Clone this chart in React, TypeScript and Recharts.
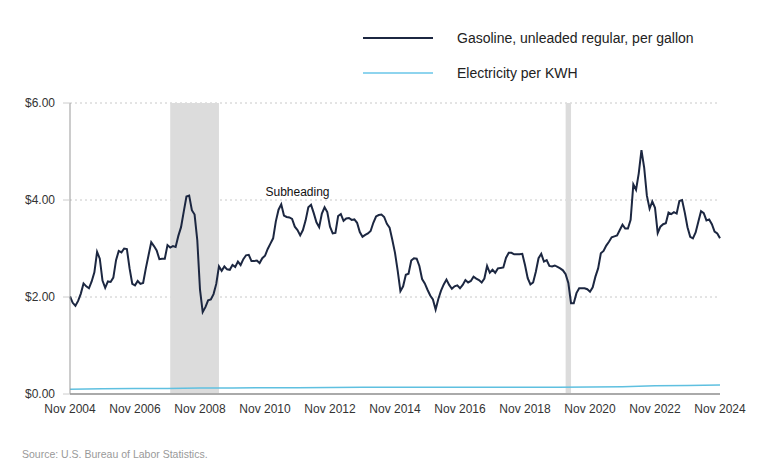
import { LineChart, Line, XAxis, YAxis, CartesianGrid, Legend, ReferenceArea, ReferenceDot } from "recharts";

// average price, gasoline unleaded regular, per gallon (monthly, Nov 2004 - Nov 2024)
const gas2004 = [2.01, 1.88];
const gas2005 = [1.82, 1.92, 2.07, 2.28, 2.22, 2.18, 2.32, 2.51, 2.93, 2.79, 2.34, 2.19];
const gas2006 = [2.32, 2.31, 2.4, 2.76, 2.95, 2.92, 3.0, 2.99, 2.59, 2.27, 2.24, 2.33];
const gas2007 = [2.27, 2.29, 2.59, 2.86, 3.13, 3.05, 2.96, 2.78, 2.79, 2.79, 3.07, 3.02];
const gas2008 = [3.05, 3.03, 3.26, 3.44, 3.76, 4.07, 4.09, 3.79, 3.7, 3.17, 2.15, 1.69];
const gas2009 = [1.79, 1.93, 1.95, 2.06, 2.27, 2.63, 2.54, 2.63, 2.57, 2.56, 2.66, 2.62];
const gas2010 = [2.73, 2.66, 2.78, 2.86, 2.87, 2.74, 2.74, 2.75, 2.7, 2.8, 2.85, 2.99];
const gas2011 = [3.1, 3.21, 3.56, 3.8, 3.91, 3.68, 3.65, 3.64, 3.61, 3.45, 3.38, 3.27];
const gas2012 = [3.38, 3.58, 3.85, 3.9, 3.73, 3.54, 3.44, 3.72, 3.85, 3.75, 3.45, 3.31];
const gas2013 = [3.32, 3.67, 3.71, 3.57, 3.62, 3.63, 3.59, 3.6, 3.53, 3.34, 3.24, 3.28];
const gas2014 = [3.31, 3.36, 3.53, 3.66, 3.69, 3.7, 3.65, 3.51, 3.43, 3.18, 2.91, 2.54];
const gas2015 = [2.12, 2.22, 2.46, 2.48, 2.75, 2.8, 2.79, 2.64, 2.37, 2.28, 2.15, 2.03];
const gas2016 = [1.95, 1.74, 1.96, 2.13, 2.26, 2.36, 2.25, 2.17, 2.22, 2.24, 2.18, 2.25];
const gas2017 = [2.35, 2.3, 2.33, 2.42, 2.38, 2.35, 2.3, 2.38, 2.64, 2.5, 2.56, 2.5];
const gas2018 = [2.59, 2.6, 2.61, 2.81, 2.91, 2.91, 2.88, 2.88, 2.88, 2.89, 2.66, 2.39];
const gas2019 = [2.26, 2.3, 2.52, 2.8, 2.89, 2.73, 2.76, 2.64, 2.63, 2.65, 2.62, 2.59];
const gas2020 = [2.55, 2.47, 2.29, 1.87, 1.87, 2.08, 2.18, 2.18, 2.18, 2.16, 2.11, 2.2];
const gas2021 = [2.42, 2.59, 2.9, 2.95, 3.06, 3.14, 3.23, 3.25, 3.27, 3.38, 3.49, 3.41];
const gas2022 = [3.41, 3.59, 4.32, 4.21, 4.55, 5.03, 4.67, 4.09, 3.82, 3.97, 3.84, 3.32];
const gas2023 = [3.45, 3.5, 3.52, 3.74, 3.71, 3.75, 3.72, 3.98, 4.0, 3.74, 3.44, 3.24];
const gas2024 = [3.21, 3.33, 3.55, 3.77, 3.73, 3.58, 3.6, 3.5, 3.35, 3.31, 3.21];

const gasoline = [
  gas2004, gas2005, gas2006, gas2007, gas2008, gas2009, gas2010, gas2011, gas2012, gas2013, gas2014,
  gas2015, gas2016, gas2017, gas2018, gas2019, gas2020, gas2021, gas2022, gas2023, gas2024,
].flat();

// electricity per kWh, read at each November (2004 - 2024)
const electricityNov = [
  0.1, 0.108, 0.112, 0.115, 0.125, 0.126, 0.128, 0.131, 0.133, 0.137, 0.14,
  0.14, 0.139, 0.141, 0.14, 0.14, 0.142, 0.15, 0.168, 0.175, 0.185,
];

const monthNames = ["Jan", "Feb", "Mar", "Apr", "May", "Jun", "Jul", "Aug", "Sep", "Oct", "Nov", "Dec"];
const yTicks = [0, 2, 4, 6];

const data = gasoline.map((g, i) => {
  const m = (10 + i) % 12;
  const year = 2004 + Math.floor((10 + i) / 12);
  return {
    label: `${monthNames[m]} ${year}`,
    gasoline: g,
    electricity: m === 10 ? electricityNov[year - 2004] : null,
  };
});

const GAS_COLOR = "#1c2741";
const ELEC_COLOR = "#5fc0e0";
const FONT = "'Liberation Sans', Arial, sans-serif";

const LegendBox = () => (
  <div style={{ fontFamily: FONT, fontSize: 14, color: "#222" }}>
    {[
      { name: "Gasoline, unleaded regular, per gallon", color: GAS_COLOR },
      { name: "Electricity per KWH", color: "#8ed4ee" },
    ].map((it) => (
      <div key={it.name} style={{ display: "flex", alignItems: "center", height: 35 }}>
        <div style={{ width: 70, height: 2, background: it.color, marginRight: 24 }} />
        <span>{it.name}</span>
      </div>
    ))}
  </div>
);

export default function App() {
  return (
    <div style={{ position: "absolute", left: 0, top: 0, width: 778, height: 461, background: "#fff" }}>
      <LineChart width={778} height={461} data={data} margin={{ top: 103, right: 58, bottom: 37, left: 8 }}>
        <CartesianGrid vertical={false} stroke="#c8c8c8" strokeDasharray="2 3" />
        <ReferenceArea x1="Dec 2007" x2="Jun 2009" fill="#dcdcdc" fillOpacity={1} stroke="none" />
        <ReferenceArea x1="Feb 2020" x2="Apr 2020" fill="#dcdcdc" fillOpacity={1} stroke="none" />
        <XAxis
          dataKey="label"
          interval={23}
          tickLine={false}
          axisLine={{ stroke: "#aaa", strokeWidth: 2 }}
          tick={{ fontSize: 12, fill: "#333", fontFamily: FONT }}
          tickMargin={4}
        />
        <YAxis
          width={62}
          domain={[0, 6]}
          ticks={yTicks}
          tickFormatter={(v: number) => `$${v.toFixed(2)}`}
          axisLine={{ stroke: "#999" }}
          tickLine={{ stroke: "#ccc" }}
          tickSize={7}
          tickMargin={8}
          tick={{ fontSize: 12, fill: "#333", fontFamily: FONT }}
        />
        <Legend
          layout="vertical"
          align="center"
          verticalAlign="middle"
          content={() => <LegendBox />}
          wrapperStyle={{ top: 20, left: 363, width: 400 }}
        />
        <ReferenceDot
          x="Nov 2011"
          y={4.17}
          r={0}
          stroke="none"
          fill="none"
          label={{ value: "Subheading", position: "center", fontSize: 12, fill: "#111", fontFamily: FONT }}
        />
        <Line
          type="linear"
          dataKey="electricity"
          stroke={ELEC_COLOR}
          strokeWidth={1.5}
          dot={false}
          connectNulls
          isAnimationActive={false}
        />
        <Line
          type="linear"
          dataKey="gasoline"
          stroke={GAS_COLOR}
          strokeWidth={2}
          dot={false}
          isAnimationActive={false}
        />
      </LineChart>
      <div
        style={{
          position: "absolute",
          left: 22,
          top: 448,
          fontFamily: "'Liberation Sans Narrow', 'Liberation Sans', sans-serif",
          fontSize: 10.5,
          color: "#999",
        }}
      >
        Source: U.S. Bureau of Labor Statistics.
      </div>
    </div>
  );
}
